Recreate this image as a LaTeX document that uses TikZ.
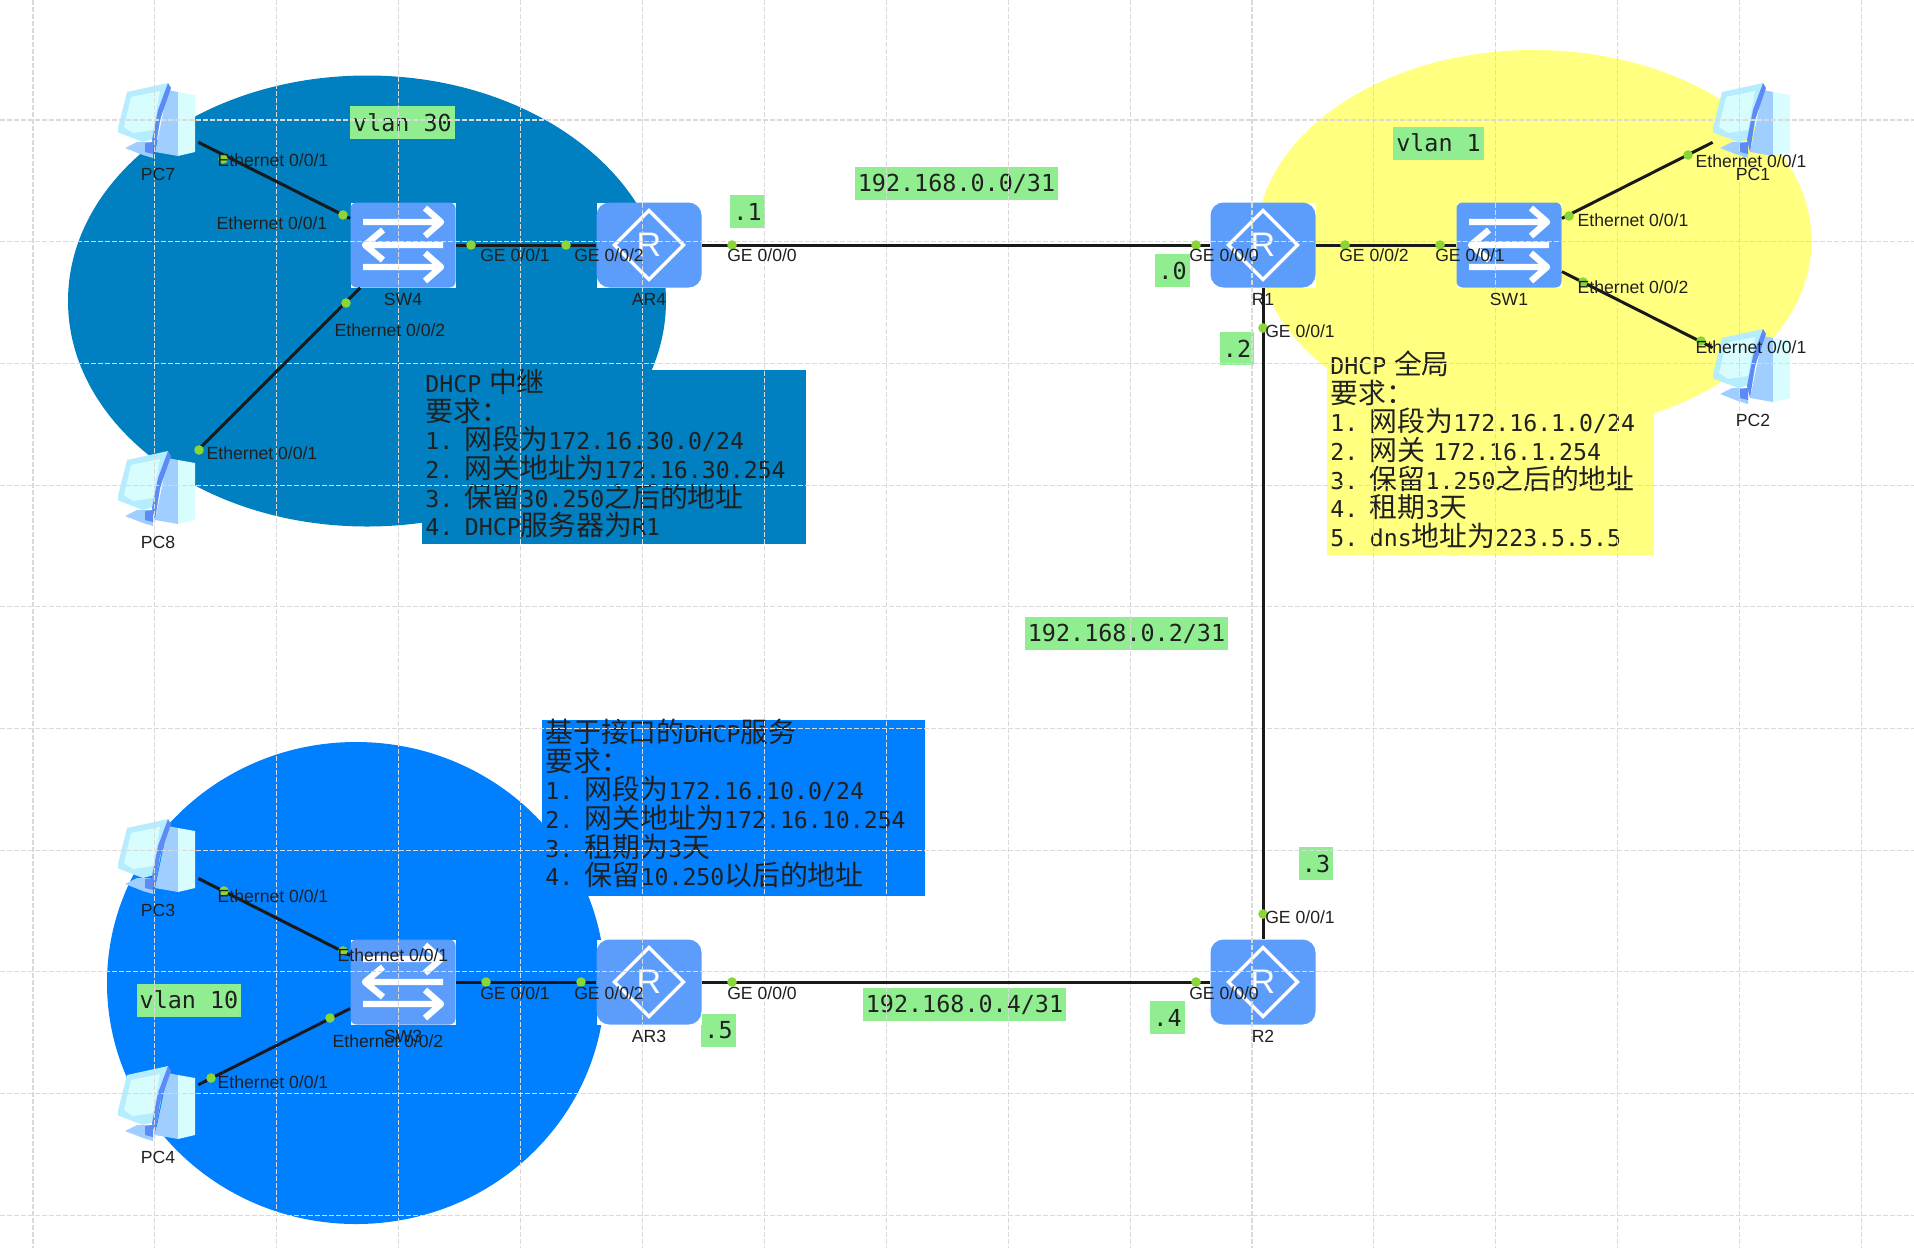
\documentclass[tikz,border=0pt]{standalone}
\usepackage{fontspec}
\usepackage{xcolor}
\usepackage{tikz}
\usetikzlibrary{positioning,shapes.geometric}
\setmainfont{Liberation Sans}
\setmonofont{DejaVu Sans Mono}
\newfontfamily\zhfont[Scale=1.2]{Noto Sans CJK SC}
\newcommand{\zh}[1]{{\zhfont #1}}
\definecolor{zonedark}{HTML}{0080C0}
\definecolor{zoneblue}{HTML}{0080FF}
\definecolor{zoneyellow}{HTML}{FFFF80}
\definecolor{taggreen}{HTML}{90EE90}
\definecolor{devblue}{HTML}{5C9DFB}
\definecolor{portgreen}{HTML}{8AD636}
\definecolor{gridgray}{HTML}{DADADA}
\definecolor{inkdark}{HTML}{202020}
\definecolor{pcshell}{HTML}{B5EDFF}
\definecolor{pcscreen}{HTML}{D8FDFF}
\definecolor{pcside}{HTML}{A0CFFF}
\definecolor{pcstrip}{HTML}{5B8CF5}
\newcommand{\swglyph}{%
  \begin{scope}[shift={(path picture bounding box.center)}, white, line width=3.2pt, line join=round]
  \draw (-40,-23) -- (37,-23) (22,-37) -- (38,-23) -- (22,-9);
  \draw (40,0) -- (-37,0) (-20,-15) -- (-38,0) -- (-20,15);
  \draw (-40,22) -- (37,22) (22,8) -- (38,22) -- (22,36);
  \end{scope}}
\newcommand{\pcglyph}{%
  \begin{scope}[shift={(path picture bounding box.center)}]
  \fill[pcside] (-33,26) -- (-21,20) -- (-5,20) -- (-5,36) -- (-15,33) -- cycle;
  \fill[pcstrip] (-13,21) -- (-5,20) -- (-5,32) -- (-13,30) -- cycle;
  \fill[pcside] (10,-32) -- (20,-30) -- (20,34) -- (-3,30) -- cycle;
  \fill[pcscreen] (20,-30) -- (37,-27) -- (37,30) -- (20,34) -- cycle;
  \fill[pcshell] (-41,10) -- (-31,-30) -- (10,-39) -- (-1,16) -- (-15,20) -- cycle;
  \fill[pcscreen] (-34,5) -- (-27,-25) -- (2,-31) -- (-5,8) -- (-25,11) -- cycle;
  \fill[pcstrip] (10,-39) -- (13,-34) -- (2,-2) -- (-3,30) -- (-6,18) -- (0,-12) -- cycle;
  \end{scope}}
\begin{document}
\begin{tikzpicture}[x=0.5pt, y=-0.5pt, font=\fontsize{8.8}{10}\selectfont,
  zone/.style={ellipse, inner sep=0pt},
  note/.style={anchor=north west, align=left, inner xsep=1.5pt, inner ysep=0pt, text=inkdark, text height=11pt,
               font=\ttfamily\fontsize{11.6}{14.35}\selectfont},
  tag/.style={fill=taggreen, text=inkdark, inner xsep=1.5pt, inner ysep=0pt, minimum height=16.5pt,
              font=\ttfamily\fontsize{11.7}{14}\selectfont},
  gridline/.style={gridgray, line width=0.55pt, dash pattern=on 2.5pt off 1pt},
  router/.style={minimum width=52.5pt, minimum height=42.5pt, inner sep=0pt, fill=white, text=white,
                 font=\fontsize{17}{17}\selectfont,
                 path picture={\fill[devblue, rounded corners=6.5pt] (path picture bounding box.south west)
                   rectangle (path picture bounding box.north east);
                   \draw[white, line width=1.7pt] ([xshift=-17.25pt]path picture bounding box.center)
                   -- ([yshift=17.25pt]path picture bounding box.center)
                   -- ([xshift=17.25pt]path picture bounding box.center)
                   -- ([yshift=-17.25pt]path picture bounding box.center) -- cycle;}},
  switch/.style={minimum width=52.5pt, minimum height=42.5pt, inner sep=0pt, fill=white,
                 path picture={\fill[devblue, rounded corners=3pt] (path picture bounding box.south west)
                   rectangle (path picture bounding box.north east); \swglyph}},
  pc/.style={minimum width=40pt, minimum height=40pt, inner sep=0pt, path picture={\pcglyph}},
  devname/.style={inner sep=1pt, text=inkdark},
  link/.style={line width=1.5pt, black!90},
  port/.style={circle, fill=portgreen, inner sep=0pt, minimum size=4.8pt},
  iface/.style={inner sep=0pt, text=inkdark}]
\useasboundingbox (0,0) rectangle (1914,1248);
\fill[white] (0,0) rectangle (1914,1248);
% vlan areas
\node[zone, fill=zonedark, minimum width=299pt, minimum height=225.5pt] (zone30) at (367,301) {};
\node[zone, fill=zoneyellow, minimum width=277.5pt, minimum height=191pt] (zone1) at (1534,241) {};
\node[zone, fill=zoneblue, minimum width=249pt, minimum height=241pt] (zone10) at (356,983) {};
% requirement notes
\node[note, fill=zonedark, text width=189pt, text depth=76pt] (note30) at (422,370) {DHCP \zh{中继}\\\zh{要求：}\\1. \zh{网段为}172.16.30.0/24\\2. \zh{网关地址为}172.16.30.254\\3. \zh{保留}30.250\zh{之后的地址}\\4. DHCP\zh{服务器为}R1};
\node[note, fill=zoneyellow, text width=160.5pt, text depth=90.5pt] (note1) at (1327,352) {DHCP \zh{全局}\\\zh{要求：}\\1. \zh{网段为}172.16.1.0/24\\2. \zh{网关} 172.16.1.254\\3. \zh{保留}1.250\zh{之后的地址}\\4. \zh{租期}3\zh{天}\\5. dns\zh{地址为}223.5.5.5};
\node[note, fill=zoneblue, text width=188.5pt, text depth=77pt] (note10) at (542,720) {\zh{基于接口的}DHCP\zh{服务}\\\zh{要求：}\\1. \zh{网段为}172.16.10.0/24\\2. \zh{网关地址为}172.16.10.254\\3. \zh{租期为}3\zh{天}\\4. \zh{保留}10.250\zh{以后的地址}};
% green tags
\node[tag] (tagv30) at (402.5,122.5) {vlan 30};
\node[tag] (tagv1) at (1438.5,143) {vlan 1};
\node[tag] (tagv10) at (189,1000) {vlan 10};
\node[tag] (net0) at (956.5,183.5) {192.168.0.0/31};
\node[tag] (net2) at (1126.5,633.5) {192.168.0.2/31};
\node[tag] (net4) at (964.5,1004.5) {192.168.0.4/31};
\node[tag] (addr1) at (747.5,211.5) {.1};
\node[tag] (addr0) at (1172.5,270.5) {.0};
\node[tag] (addr2) at (1237,348.5) {.2};
\node[tag] (addr3) at (1316,863.5) {.3};
\node[tag] (addr4) at (1167.5,1017.5) {.4};
\node[tag] (addr5) at (718.5,1030.5) {.5};
% devices
\node[pc] (pc7) at (158,122) {};
\node[pc] (pc8) at (158,490) {};
\node[pc] (pc3) at (158,858) {};
\node[pc] (pc4) at (158,1105) {};
\node[pc] (pc1) at (1753,122) {};
\node[pc] (pc2) at (1753,368) {};
\node[switch] (sw4) at (403,245) {};
\node[switch] (sw3) at (403,982) {};
\node[switch] (sw1) at (1509,245) {};
\node[router] (ar4) at (649,245) {R};
\node[router] (ar3) at (649,982) {R};
\node[router] (r1) at (1263,245) {R};
\node[router] (r2) at (1263,982) {R};
% canvas grid
\foreach \gx in {33,154.9,...,1900} \draw[gridline] (\gx,0) -- (\gx,1248);
\foreach \gy in {120,241.7,...,1240} \draw[gridline] (0,\gy) -- (1914,\gy);
\node[devname, below=1.5pt of pc7] (pc7name) {PC7};
\node[devname, below=1.5pt of pc8] (pc8name) {PC8};
\node[devname, below=1.5pt of pc3] (pc3name) {PC3};
\node[devname, below=1.5pt of pc4] (pc4name) {PC4};
\node[devname, below=1.5pt of pc1] (pc1name) {PC1};
\node[devname, below=1.5pt of pc2] (pc2name) {PC2};
\node[devname, below=1.5pt of sw4] (sw4name) {SW4};
\node[devname, below=1.5pt of sw3] (sw3name) {SW3};
\node[devname, below=1.5pt of sw1] (sw1name) {SW1};
\node[devname, below=1.5pt of ar4] (ar4name) {AR4};
\node[devname, below=1.5pt of ar3] (ar3name) {AR3};
\node[devname, below=1.5pt of r1] (r1name) {R1};
\node[devname, below=1.5pt of r2] (r2name) {R2};
% links
\draw[link] (pc7) -- (sw4);
\draw[link] (pc8) -- (sw4);
\draw[link] (sw4) -- (ar4);
\draw[link] (ar4) -- (r1);
\draw[link] (r1) -- (sw1);
\draw[link] (sw1) -- (pc1);
\draw[link] (sw1) -- (pc2);
\draw[link] (r1) -- (r2);
\draw[link] (ar3) -- (r2);
\draw[link] (sw3) -- (ar3);
\draw[link] (pc3) -- (sw3);
\draw[link] (pc4) -- (sw3);
% ports
\node[port] (p7) at (223,159) {};
\node[port] (s4a) at (343,215) {};
\node[port] (s4b) at (346,303) {};
\node[port] (p8) at (199,450) {};
\node[port] (s4c) at (471,245) {};
\node[port] (a4b) at (566,245) {};
\node[port] (a4a) at (732,245) {};
\node[port] (r1a) at (1196,245) {};
\node[port] (r1c) at (1345,245) {};
\node[port] (s1c) at (1440,245) {};
\node[port] (s1a) at (1569,216) {};
\node[port] (p1) at (1688,155) {};
\node[port] (s1b) at (1583,282) {};
\node[port] (p2) at (1701,341) {};
\node[port] (r1b) at (1263,328) {};
\node[port] (r2b) at (1263,914) {};
\node[port] (r2a) at (1196,982) {};
\node[port] (a3a) at (732,982) {};
\node[port] (s3c) at (486,982) {};
\node[port] (a3b) at (581,982) {};
\node[port] (p3) at (224,891) {};
\node[port] (s3a) at (343,951) {};
\node[port] (p4) at (211,1078) {};
\node[port] (s3b) at (330,1018) {};
% interface names
\node[iface] (lp7) at (273,160) {Ethernet 0/0/1};
\node[iface] (ls4a) at (272,223) {Ethernet 0/0/1};
\node[iface] (ls4b) at (390,330) {Ethernet 0/0/2};
\node[iface] (lp8) at (262,453) {Ethernet 0/0/1};
\node[iface] (ls4c) at (515,255) {GE 0/0/1};
\node[iface] (la4b) at (609,255) {GE 0/0/2};
\node[iface] (la4a) at (762,255) {GE 0/0/0};
\node[iface] (lr1a) at (1224,255) {GE 0/0/0};
\node[iface] (lr1c) at (1374,255) {GE 0/0/2};
\node[iface] (ls1c) at (1470,255) {GE 0/0/1};
\node[iface] (ls1a) at (1633,220) {Ethernet 0/0/1};
\node[iface] (lp1) at (1751,161) {Ethernet 0/0/1};
\node[iface] (ls1b) at (1633,287) {Ethernet 0/0/2};
\node[iface] (lp2) at (1751,347) {Ethernet 0/0/1};
\node[iface] (lr1b) at (1300,331) {GE 0/0/1};
\node[iface] (lr2b) at (1300,917) {GE 0/0/1};
\node[iface] (lr2a) at (1224,993) {GE 0/0/0};
\node[iface] (ls3c) at (515,993) {GE 0/0/1};
\node[iface] (la3b) at (609,993) {GE 0/0/2};
\node[iface] (la3a) at (762,993) {GE 0/0/0};
\node[iface] (lp3) at (273,896) {Ethernet 0/0/1};
\node[iface] (ls3a) at (393,955) {Ethernet 0/0/1};
\node[iface] (ls3b) at (388,1041) {Ethernet 0/0/2};
\node[iface] (lp4) at (273,1082) {Ethernet 0/0/1};
\end{tikzpicture}
\end{document}
